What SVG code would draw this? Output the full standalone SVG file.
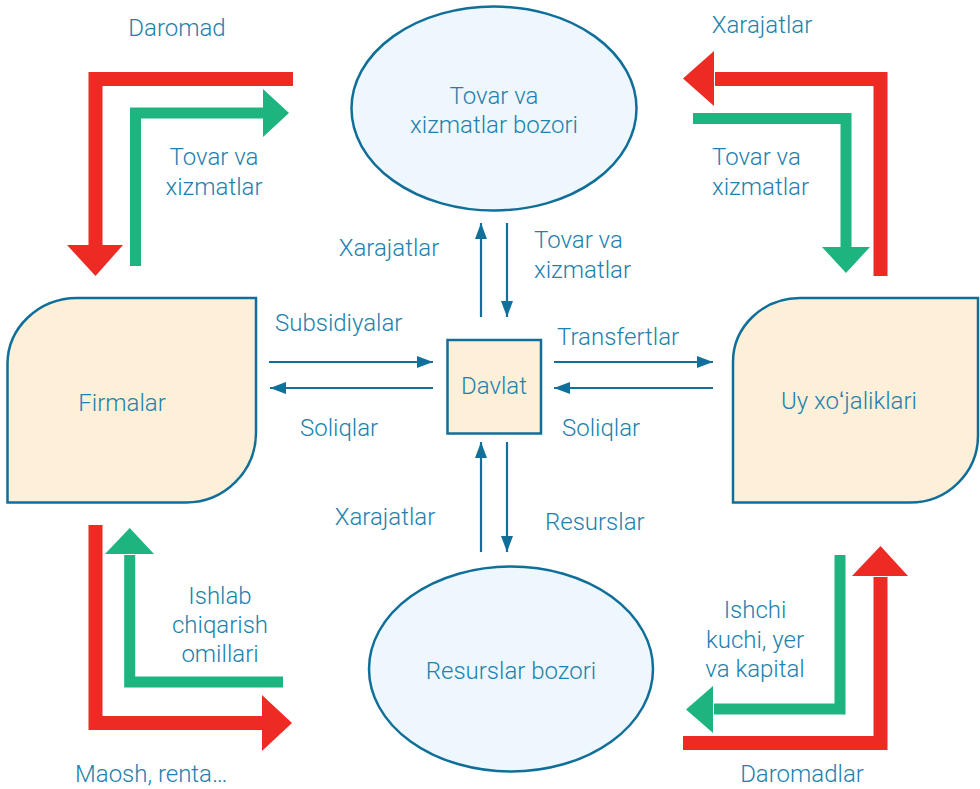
<svg xmlns="http://www.w3.org/2000/svg" width="980" height="789" viewBox="0 0 980 789">
<defs>
<style>
.t{font-family:Roboto,"Liberation Sans",sans-serif;font-size:24px;font-weight:300;fill:#2181ad;}
.m{text-anchor:middle;}
.node{stroke:#0f6f99;stroke-width:2.5;}
.box{fill:#fdefd8;}
.oval{fill:#eef7fd;}
.red{fill:none;stroke:#ee2a24;stroke-width:14;stroke-linejoin:miter;}
.grn{fill:none;stroke:#1db47f;stroke-width:11;stroke-linejoin:miter;}
.rh{fill:#ee2a24;}
.gh{fill:#1db47f;}
.thin{stroke:#11709a;stroke-width:2.2;fill:none;marker-end:url(#ah);}
</style>
<marker id="ah" markerUnits="userSpaceOnUse" markerWidth="16" markerHeight="12" refX="16" refY="6" orient="auto">
<path d="M0,0 L16,6 L0,12 z" fill="#11709a"/>
</marker>
</defs>
<rect width="980" height="789" fill="#ffffff"/>

<g id="connectors">
<!-- top-left -->
<polyline class="red" points="293,79 95.5,79 95.5,246"/>
<polygon class="rh" points="67,245 123,245 95.5,276"/>
<polyline class="grn" points="135.5,266 135.5,113 264,113"/>
<polygon class="gh" points="263,89 263,137 289,113"/>
<!-- top-right -->
<polyline class="red" points="880.5,276 880.5,79 715,79"/>
<polygon class="rh" points="714,51 714,106 683,78.5"/>
<polyline class="grn" points="693,118.5 846,118.5 846,248"/>
<polygon class="gh" points="822,247 870,247 846,273"/>
<!-- bottom-left -->
<polyline class="red" points="95.5,525 95.5,723 263,723"/>
<polygon class="rh" points="262,695 262,751 292,723"/>
<polyline class="grn" points="283,682 129.7,682 129.7,555"/>
<polygon class="gh" points="105,554 154,554 129.7,528"/>
<!-- bottom-right -->
<polyline class="red" points="683,743 880.5,743 880.5,577"/>
<polygon class="rh" points="852,576 908,576 880.5,546"/>
<polyline class="grn" points="840,555 840,709 714,709"/>
<polygon class="gh" points="713,686 713,733 686,709.5"/>
<!-- thin arrows around Davlat -->
<line class="thin" x1="269" y1="362" x2="433" y2="362"/>
<line class="thin" x1="433" y1="388" x2="270" y2="388"/>
<line class="thin" x1="554" y1="362" x2="713" y2="362"/>
<line class="thin" x1="713" y1="388" x2="554" y2="388"/>
<line class="thin" x1="481" y1="317" x2="481" y2="223"/>
<line class="thin" x1="507" y1="223" x2="507" y2="317"/>
<line class="thin" x1="481" y1="552" x2="481" y2="442"/>
<line class="thin" x1="507" y1="442" x2="507" y2="552"/>
</g>

<g id="labels">
<text class="t m" x="177" y="36">Daromad</text>
<text class="t m" x="214" y="165">Tovar va</text>
<text class="t m" x="214" y="195">xizmatlar</text>
<text class="t m" x="762" y="33">Xarajatlar</text>
<text class="t" x="712" y="165">Tovar va</text>
<text class="t" x="712" y="195">xizmatlar</text>
<text class="t m" x="389" y="256">Xarajatlar</text>
<text class="t" x="534" y="248">Tovar va</text>
<text class="t" x="534" y="278">xizmatlar</text>
<text class="t" x="275" y="331">Subsidiyalar</text>
<text class="t" x="557" y="345">Transfertlar</text>
<text class="t" x="300" y="436">Soliqlar</text>
<text class="t" x="562" y="436">Soliqlar</text>
<text class="t m" x="385" y="525">Xarajatlar</text>
<text class="t" x="545" y="530">Resurslar</text>
<text class="t m" x="220" y="604">Ishlab</text>
<text class="t m" x="220" y="633">chiqarish</text>
<text class="t m" x="220" y="662">omillari</text>
<text class="t m" x="755" y="618">Ishchi</text>
<text class="t m" x="755" y="648">kuchi, yer</text>
<text class="t m" x="755" y="677">va kapital</text>
<text class="t" x="75" y="782">Maosh, renta…</text>
<text class="t m" x="802" y="782">Daromadlar</text>
</g>

<g id="tovar-bozori">
<ellipse class="node oval" cx="494" cy="108.5" rx="142.5" ry="102"/>
<text class="t m" x="494" y="104">Tovar va</text>
<text class="t m" x="494" y="133">xizmatlar bozori</text>
</g>

<g id="resurslar-bozori">
<ellipse class="node oval" cx="511" cy="669" rx="142" ry="102.5"/>
<text class="t m" x="511" y="679">Resurslar bozori</text>
</g>

<g id="firmalar">
<path class="node box" d="M77,298 H256 V433 A70,70 0 0 1 186,502.5 H7.5 V364 A70,66 0 0 1 77,298 Z"/>
<text class="t m" x="122" y="411">Firmalar</text>
</g>

<g id="uy-xojaliklari">
<path class="node box" d="M800,298 H978 V436 A68,67 0 0 1 910,502.5 H733 V362 A67,64 0 0 1 800,298 Z"/>
<text class="t m" x="849" y="409">Uy xoʻjaliklari</text>
</g>

<g id="davlat">
<rect class="node box" x="447.5" y="340" width="93.5" height="93.5"/>
<text class="t m" x="494" y="394">Davlat</text>
</g>
</svg>
